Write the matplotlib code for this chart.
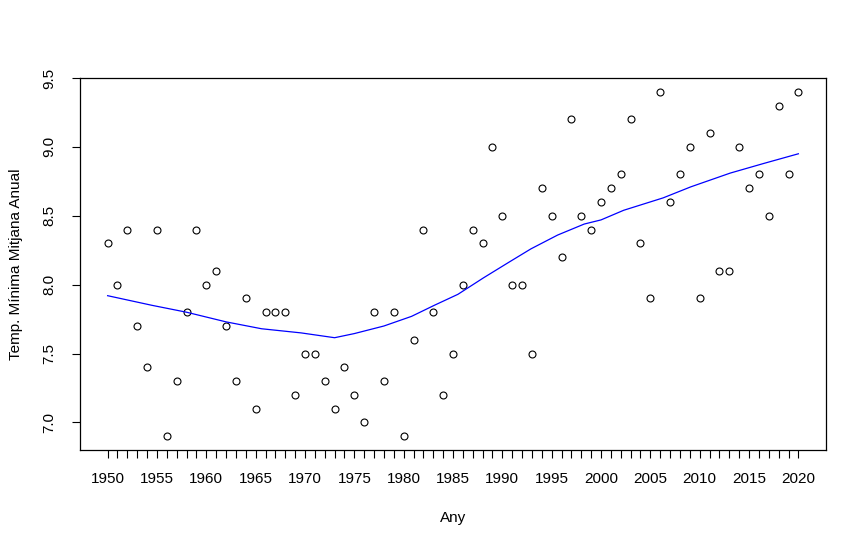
import numpy as np
import matplotlib
matplotlib.use("Agg")
import matplotlib.pyplot as plt

plt.rcParams["font.family"] = ["Liberation Sans", "DejaVu Sans"]

# --- Data ---
years = list(range(1950, 2021))
tmin = [8.3, 8.0, 8.4, 7.7, 7.4, 8.4, 6.9, 7.3, 7.8, 8.4,
        8.0, 8.1, 7.7, 7.3, 7.9, 7.1, 7.8, 7.8, 7.8, 7.2,
        7.5, 7.5, 7.3, 7.1, 7.4, 7.2, 7.0, 7.8, 7.3, 7.8,
        6.9, 7.6, 8.4, 7.8, 7.2, 7.5, 8.0, 8.4, 8.3, 9.0,
        8.5, 8.0, 8.0, 7.5, 8.7, 8.5, 8.2, 9.2, 8.5, 8.4,
        8.6, 8.7, 8.8, 9.2, 8.3, 7.9, 9.4, 8.6, 8.8, 9.0,
        7.9, 9.1, 8.1, 8.1, 9.0, 8.7, 8.8, 8.5, 9.3, 8.8,
        9.4]

# smoothed trend line (blue)
smooth_years = [1950, 1954.5, 1958, 1962, 1965.6, 1969.6, 1973, 1975,
                1978, 1980.8, 1983.1, 1985.5, 1988.1, 1990.6, 1992.9,
                1995.6, 1998.3, 2000, 2002.3, 2006.3, 2009.1, 2013.1,
                2016.5, 2020]
smooth_vals = [7.92, 7.85, 7.80, 7.73, 7.68, 7.65, 7.615, 7.645,
               7.70, 7.77, 7.85, 7.93, 8.05, 8.16, 8.26,
               8.36, 8.44, 8.47, 8.54, 8.63, 8.71, 8.81,
               8.88, 8.95]

x_labels = list(range(1950, 2021, 5))
y_ticks = [7.0, 7.5, 8.0, 8.5, 9.0, 9.5]

fig = plt.figure(figsize=(8.66, 5.48), dpi=100)
ax = fig.add_axes([80 / 866, 1 - 450 / 548, 746 / 866, 372 / 548])

ax.plot(years, tmin, linestyle="none", marker="o", markersize=5,
        markerfacecolor="none", markeredgecolor="black", markeredgewidth=0.8)
ax.plot(smooth_years, smooth_vals, color="blue", linewidth=0.9)

ax.set_xlim(1947.2, 2022.8)
ax.set_ylim(6.8, 9.5)

ax.set_xticks(years)
ax.set_xticklabels([str(y) if y in x_labels else "" for y in years])
ax.set_yticks(y_ticks)
ax.set_yticklabels([f"{v:.1f}" for v in y_ticks], rotation=90, va="center")

ax.tick_params(axis="both", direction="out", length=6, width=0.8,
               labelsize=11, color="black")
ax.tick_params(axis="x", pad=10)
ax.tick_params(axis="y", pad=11)

for sp in ax.spines.values():
    sp.set_linewidth(0.9)

ax.set_xlabel("Any", fontsize=11, labelpad=18)
ax.set_ylabel("Temp. Mínima Mitjana Anual", fontsize=11, va="center")
ax.yaxis.set_label_coords(-0.086, 0.5)

fig.savefig("out.png", dpi=100)
